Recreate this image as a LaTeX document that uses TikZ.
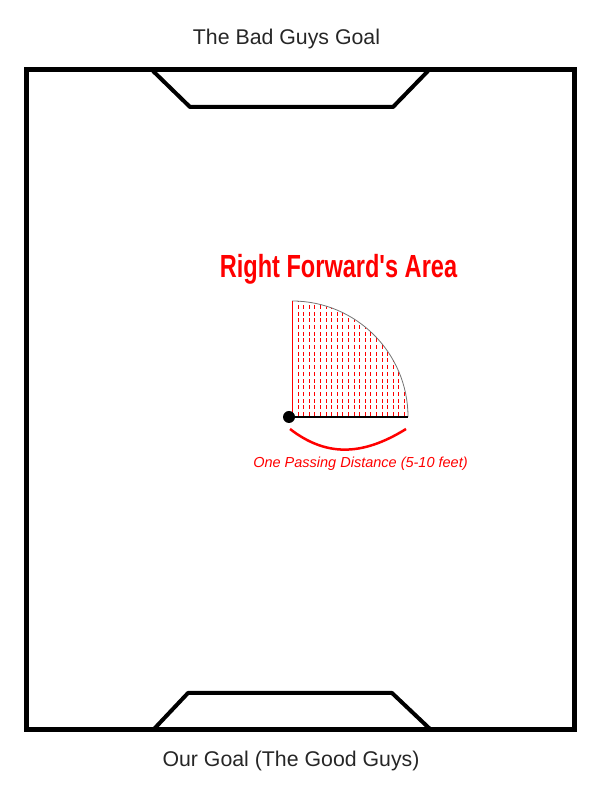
\documentclass[tikz,border=0pt]{standalone}
\usepackage{fontspec}
\setmainfont{Liberation Sans}
\usepackage{xcolor}
\usetikzlibrary{positioning,calc}

\begin{document}
\begin{tikzpicture}[x=1pt, y=1pt,
    fieldline/.style={line width=5pt},
    goalline/.style={line width=4pt, line join=round},
    goaltext/.style={text=black!85, anchor=base, font=\fontsize{21.3}{24}\selectfont},
    hatch/.style={fill=red}]
    \useasboundingbox (0,0) rectangle (604,792);

    % field and goals
    \draw [fieldline] (26.5,62) rectangle (574,722.5);
    \draw [goalline] (153,721) -- (190,685) -- (393,685) -- (428,721);
    \draw [goalline] (154,63) -- (188,99) -- (392,99) -- (430,63);
    \node (badgoal) [goaltext] at (286.5,747) {The Bad Guys Goal};
    \node (ourgoal) [goaltext] at (291,25) {Our Goal (The Good Guys)};

    % right forward's area
    \coordinate (player) at (292,375);
    \begin{scope}
        \clip (player) -- ++(116,0) arc (0:90:116) -- cycle;
        \foreach \k in {1,...,20}
            \foreach \j in {0,...,17} {
                \pgfmathsetmacro\dx{round(5.6*\k)}
                \pgfmathsetmacro\dy{round(6.7*\j)+1}
                \path [hatch] ($(player)+(\dx,\dy)$) rectangle ++(1,4);
            }
    \end{scope}
    \draw [black!55, line width=0.8pt] (player) ++(116,0) arc (0:90:116);
    \draw [red, line width=1pt] (player) -- ++(0,116);
    \draw [line width=1.6pt] (player) -- ++(116,0) coordinate (reach);
    \fill (player) ++(-3,0) circle (6);
    \draw [red, line width=2.5pt] ($(player)+(-2,-12)$) .. controls ++(35,-27) and ++(-45,-28) .. ($(reach)+(-2,-12)$);

    \node (title) [anchor=base, text=red, font=\bfseries\fontsize{32}{36}\selectfont] at (338.5,514)
        {\scalebox{0.736}[1]{Right Forward\textquotesingle s Area}};
    \node (distance) [anchor=base, text=red, font=\itshape\fontsize{14.5}{17}\selectfont]
        at ($(player)+(68.5,-51)$) {One Passing Distance (5-10 feet)};
\end{tikzpicture}
\end{document}
